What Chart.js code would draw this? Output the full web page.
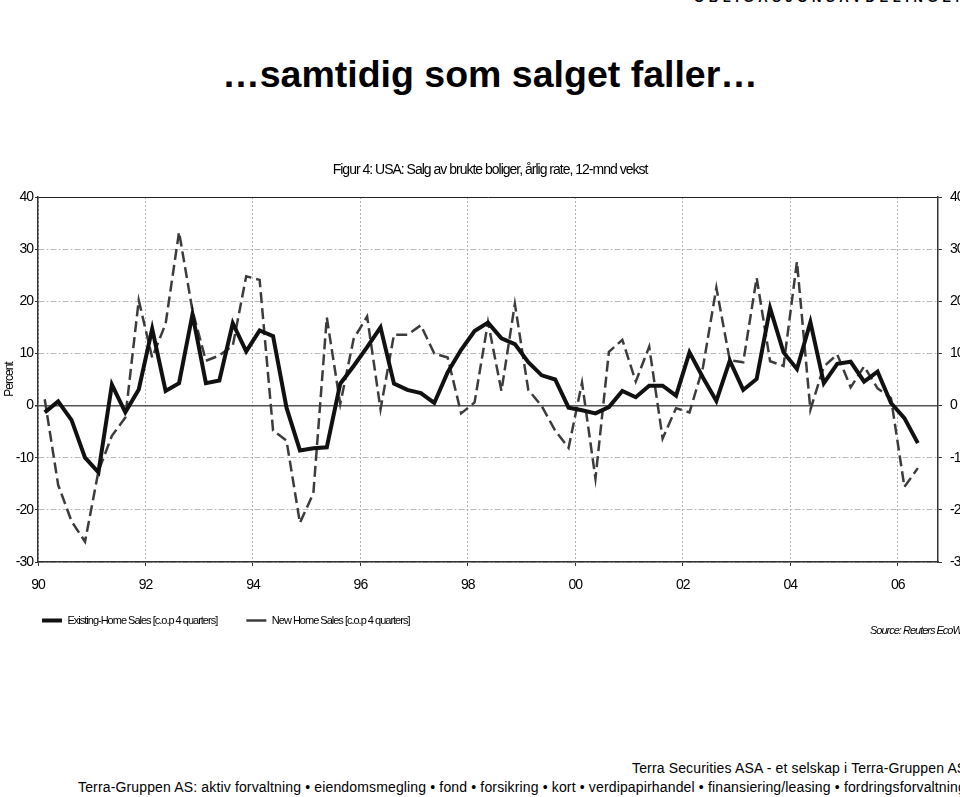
<!DOCTYPE html>
<html>
<head>
<meta charset="utf-8">
<script src="https://cdn.jsdelivr.net/npm/chart.js@4.4.1/dist/chart.umd.min.js"></script>
<style>
  body { margin: 0; background: #fff; width: 960px; height: 797px; overflow: hidden; position: relative; font-family: 'Liberation Sans', Arial, sans-serif; }
  .abs { position: absolute; white-space: nowrap; color: #000; }
  #dept { top: -9px; left: 694px; font-size: 13px; font-weight: bold; letter-spacing: 4.6px; line-height: 13px; }
  #headline { top: 52px; left: 0; width: 980px; text-align: center; font-size: 37.5px; font-weight: bold; line-height: 44px; }
  #source { top: 624px; left: 870px; font-style: italic; font-size: 11px; letter-spacing: -1px; }
  #foot1 { top: 760px; left: 632px; font-size: 14px; letter-spacing: 0.15px; }
  #foot2 { top: 779px; left: 78px; font-size: 14px; letter-spacing: 0.15px; }
  #wrap { position: absolute; left: 0; top: 150px; width: 980px; height: 486px; }
</style>
</head>
<body>
<div class="abs" id="dept">OBLIGASJONSAVDELINGEN</div>
<div class="abs" id="headline">…samtidig som salget faller…</div>
<div id="wrap"><canvas id="myChart" width="980" height="486"></canvas></div>
<div class="abs" id="source">Source: Reuters EcoWin</div>
<div class="abs" id="foot1">Terra Securities ASA - et selskap i Terra-Gruppen AS</div>
<div class="abs" id="foot2">Terra-Gruppen AS: aktiv forvaltning • eiendomsmegling • fond • forsikring • kort • verdipapirhandel • finansiering/leasing • fordringsforvaltning</div>
<script>
// quarterly, 1990Q1 - 2006Q2
const startYear = 1990;
const existingSales = [
  -1.3, 0.8, -2.8, -10.0,   // 1990
  -12.8, 4.0, -1.3, 3.1,    // 1991
  14.7, 2.8, 4.3, 17.5,     // 1992
  4.3, 4.8, 15.8, 10.4,     // 1993
  14.4, 13.3, -0.4, -8.6,   // 1994
  -8.2, -8.0, 4.2, 7.6,     // 1995
  11.2, 15.0, 4.2, 3.0,     // 1996
  2.4, 0.5, 6.4, 10.7,      // 1997
  14.3, 15.9, 12.9, 11.8,   // 1998
  8.3, 5.8, 5.0, -0.4,      // 1999
  -0.9, -1.5, -0.3, 2.8,    // 2000
  1.6, 3.8, 3.8, 1.9,       // 2001
  10.2, 5.4, 0.9, 8.6,      // 2002
  3.0, 5.1, 18.7, 10.2,     // 2003
  7.0, 16.0, 4.3, 8.0,      // 2004
  8.4, 4.6, 6.5, 0.5,       // 2005
  -2.4, -7.2                // 2006
];
const newSales = [
  1.2, -15.2, -22.2, -26.1,
  -12.6, -5.8, -2.3, 20.2,
  9.2, 15.7, 33.3, 18.2,
  8.6, 9.6, 11.5, 24.8,
  24.1, -4.8, -6.7, -22.5,
  -16.8, 16.9, 0.3, 12.8,
  17.1, -0.7, 13.6, 13.6,
  15.4, 10.0, 9.2, -1.5,
  0.6, 16.0, 2.8, 19.5,
  3.0, -0.1, -4.8, -8.1,
  4.4, -14.0, 10.3, 12.6,
  4.6, 11.3, -6.3, -0.5,
  -1.3, 7.3, 22.6, 8.7,
  8.3, 24.5, 8.5, 7.6,
  27.6, -0.8, 7.5, 9.8,
  3.5, 7.5, 3.3, 1.4,
  -15.6, -12.0
];
const yearTicks = [1990, 1992, 1994, 1996, 1998, 2000, 2002, 2004, 2006];
const yTicks = [-30, -20, -10, 0, 10, 20, 30, 40];

// each quarter sits in the middle of its quarter on the time axis
const quarterPos = existingSales.map((v, i) => startYear + Math.floor(i / 4) + ((i % 4) + 0.5) / 4);
const toPoints = arr => arr.map((v, i) => ({ x: quarterPos[i], y: v }));

const font = "'Liberation Sans', Arial, sans-serif";

const gridColor = c => {
  const v = c.tick ? c.tick.value : null;
  if (v === 0) return '#555';
  if (v === 40) return '#222';
  return '#b8b8b8';
};
const gridDash = c => {
  const v = c.tick ? c.tick.value : null;
  return (v === null || v === 0 || v === 40) ? [] : [6, 2, 2, 2];
};

// the original uses a squeezed font everywhere, fake it with negative letter spacing
const condensed = {
  id: 'condensed',
  beforeLayout(chart) { chart.ctx.letterSpacing = '-1px'; },
  beforeDraw(chart) { chart.ctx.letterSpacing = '-1px'; }
};
const legendShift = {
  id: 'legendShift',
  afterLayout(chart) { chart.legend.left = 19; }
};

const ctx = document.getElementById('myChart').getContext('2d');
new Chart(ctx, {
  type: 'line',
  data: {
    datasets: [{
      label: 'Existing-Home Sales [c.o.p 4 quarters]',
      data: toPoints(existingSales),
      borderColor: '#111',
      backgroundColor: '#111',
      borderWidth: 4,
      pointRadius: 0,
      tension: 0
    }, {
      label: 'New Home Sales [c.o.p 4 quarters]',
      data: toPoints(newSales),
      borderColor: '#3c3c3c',
      backgroundColor: '#3c3c3c',
      borderWidth: 2.5,
      borderDash: [11, 5],
      pointRadius: 0,
      tension: 0
    }]
  },
  plugins: [condensed, legendShift],
  options: {
    responsive: false,
    animation: false,
    layout: { padding: 0 },
    plugins: {
      title: {
        display: true,
        text: 'Figur 4: USA: Salg av brukte boliger, årlig rate, 12-mnd vekst',
        color: '#000',
        font: { family: font, size: 14, weight: 'normal' },
        padding: { top: 11.6, bottom: 18.6 }
      },
      legend: {
        position: 'bottom',
        align: 'start',
        labels: {
          usePointStyle: true,
          pointStyle: 'line',
          pointStyleWidth: 20,
          padding: 23,
          color: '#000',
          font: { family: font, size: 11 },
          // a bit more room between the two entries
          generateLabels: chart => Chart.defaults.plugins.legend.labels.generateLabels(chart)
            .map((l, i) => i === 0 ? { ...l, text: l.text + '   ' } : l)
        }
      },
      tooltip: { enabled: false }
    },
    scales: {
      x: {
        type: 'linear',
        min: 1990,
        max: 2006.75,
        afterBuildTicks: s => { s.ticks = yearTicks.map(v => ({ value: v })); },
        afterFit: s => { s.height = 30; },
        ticks: {
          color: '#000',
          padding: 11,
          maxRotation: 0,
          font: { family: font, size: 14 },
          callback: v => String(v).slice(2)
        },
        grid: { color: '#b0b0b0', lineWidth: 1, tickLength: 4, tickColor: '#333' },
        border: { color: '#333', width: 1.5, dash: [2, 2] }
      },
      y: {
        position: 'left',
        min: -30,
        max: 40,
        afterBuildTicks: s => { s.ticks = yTicks.map(v => ({ value: v })); },
        afterFit: s => { s.width = 38; },
        ticks: { color: '#000', padding: 2, font: { family: font, size: 14 } },
        grid: { color: gridColor, lineWidth: c => (c.tick && c.tick.value === 0) ? 1.5 : 1, tickLength: 3, tickColor: '#333' },
        border: { color: '#333', width: 1.5, dash: gridDash },
        title: {
          display: true,
          text: 'Percent',
          color: '#000',
          font: { family: font, size: 12 },
          padding: { top: 2, bottom: 0 }
        }
      },
      y2: {
        position: 'right',
        min: -30,
        max: 40,
        afterBuildTicks: s => { s.ticks = yTicks.map(v => ({ value: v })); },
        afterFit: s => { s.width = 42; },
        ticks: { color: '#000', padding: 8, font: { family: font, size: 14 } },
        grid: { drawOnChartArea: false, tickLength: 4, tickColor: '#333' },
        border: { color: '#333', width: 1.5 }
      }
    }
  }
});
</script>
</body>
</html>
